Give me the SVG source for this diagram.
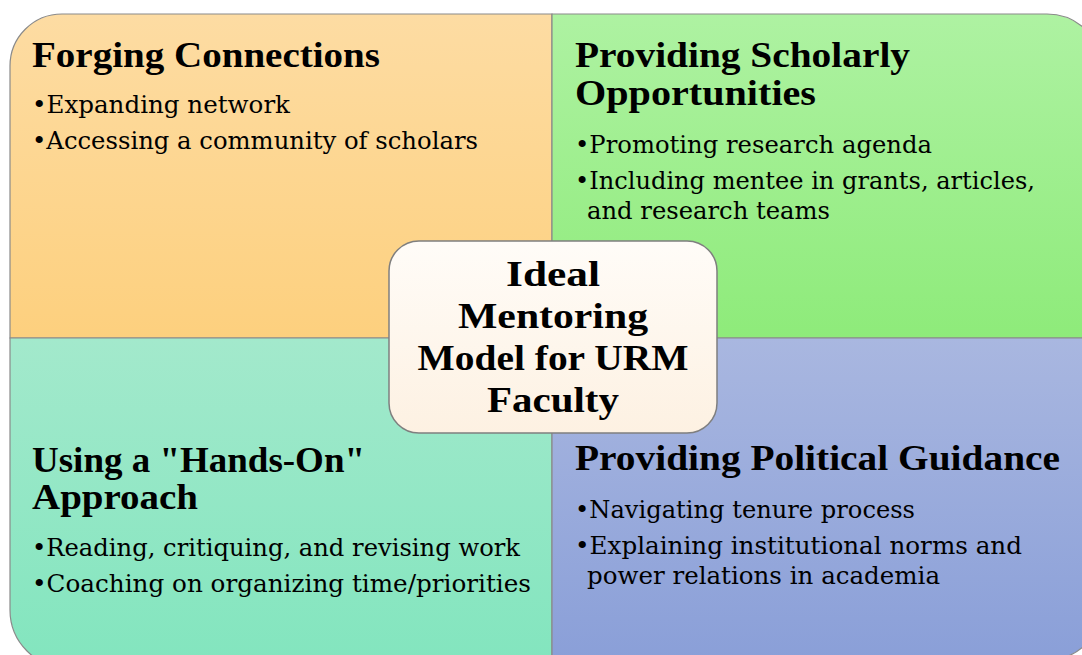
<svg xmlns="http://www.w3.org/2000/svg" width="1082" height="655" viewBox="0 0 1082 655">
<defs>
<linearGradient id="gOr" x1="0" y1="0" x2="0" y2="1"><stop offset="0" stop-color="#fddca3"/><stop offset="1" stop-color="#fdd07e"/></linearGradient>
<linearGradient id="gGr" x1="0" y1="0" x2="0" y2="1"><stop offset="0" stop-color="#aef2a2"/><stop offset="1" stop-color="#8eeb7a"/></linearGradient>
<linearGradient id="gTe" x1="0" y1="0" x2="0" y2="1"><stop offset="0" stop-color="#a3e9cc"/><stop offset="1" stop-color="#82e5be"/></linearGradient>
<linearGradient id="gBl" x1="0" y1="0" x2="0" y2="1"><stop offset="0" stop-color="#a9b7e0"/><stop offset="1" stop-color="#8a9fd8"/></linearGradient>
<linearGradient id="gCe" x1="0" y1="0" x2="0" y2="1"><stop offset="0" stop-color="#fffcf8"/><stop offset="1" stop-color="#fdf1e2"/></linearGradient>
</defs>
<style>
.q{stroke:#8a8a8a;stroke-width:1.2}
.t{font-family:"Liberation Serif","Times New Roman",serif;font-weight:bold;font-size:36px;fill:#000}
.b{font-family:"DejaVu Serif","Liberation Serif",serif;font-size:23.5px;fill:#000}
.c{font-family:"Liberation Serif","Times New Roman",serif;font-weight:bold;font-size:36px;fill:#000;text-anchor:middle}
</style>
<rect width="1082" height="655" fill="#ffffff"/>
<g id="forging">
<path class="q" fill="url(#gOr)" d="M10,338 V66 A52,52 0 0 1 62,14 H552 V338 Z"/>
<text class="t" x="32" y="67" textLength="348" lengthAdjust="spacingAndGlyphs">Forging Connections</text>
<text class="b" x="32" y="113" textLength="258" lengthAdjust="spacingAndGlyphs">•Expanding network</text>
<text class="b" x="32" y="149" textLength="446" lengthAdjust="spacingAndGlyphs">•Accessing a community of scholars</text>
</g>
<g id="scholarly">
<path class="q" fill="url(#gGr)" d="M552,14 H1047 A56,56 0 0 1 1103,70 V338 H552 Z"/>
<text class="t" x="575" y="67" textLength="335" lengthAdjust="spacingAndGlyphs">Providing Scholarly</text>
<text class="t" x="575" y="105" textLength="241" lengthAdjust="spacingAndGlyphs">Opportunities</text>
<text class="b" x="575" y="153" textLength="357" lengthAdjust="spacingAndGlyphs">•Promoting research agenda</text>
<text class="b" x="575" y="189" textLength="460" lengthAdjust="spacingAndGlyphs">•Including mentee in grants, articles,</text>
<text class="b" x="587" y="219" textLength="243" lengthAdjust="spacingAndGlyphs">and research teams</text>
</g>
<g id="handson">
<path class="q" fill="url(#gTe)" d="M10,338 H552 V668 H68 A58,58 0 0 1 10,610 Z"/>
<text class="t" x="32" y="472" textLength="333" lengthAdjust="spacingAndGlyphs">Using a "Hands-On"</text>
<text class="t" x="32" y="509" textLength="166" lengthAdjust="spacingAndGlyphs">Approach</text>
<text class="b" x="32" y="556" textLength="488" lengthAdjust="spacingAndGlyphs">•Reading, critiquing, and revising work</text>
<text class="b" x="32" y="592" textLength="499" lengthAdjust="spacingAndGlyphs">•Coaching on organizing time/priorities</text>
</g>
<g id="political">
<path class="q" fill="url(#gBl)" d="M552,338 H1103 V604 A56,56 0 0 1 1047,660 H552 Z"/>
<text class="t" x="575" y="470" textLength="485" lengthAdjust="spacingAndGlyphs">Providing Political Guidance</text>
<text class="b" x="575" y="518" textLength="340" lengthAdjust="spacingAndGlyphs">•Navigating tenure process</text>
<text class="b" x="575" y="554" textLength="447" lengthAdjust="spacingAndGlyphs">•Explaining institutional norms and</text>
<text class="b" x="587" y="584" textLength="353" lengthAdjust="spacingAndGlyphs">power relations in academia</text>
</g>
<g id="connectors"></g>
<g id="center">
<rect x="389" y="241" width="328" height="192" rx="30" ry="30" fill="url(#gCe)" stroke="#7f7f7f" stroke-width="1.5"/>
<text class="c" x="553" y="286" textLength="94" lengthAdjust="spacingAndGlyphs">Ideal</text>
<text class="c" x="553" y="328" textLength="190" lengthAdjust="spacingAndGlyphs">Mentoring</text>
<text class="c" x="553" y="370" textLength="271" lengthAdjust="spacingAndGlyphs">Model for URM</text>
<text class="c" x="553" y="412" textLength="132" lengthAdjust="spacingAndGlyphs">Faculty</text>
</g>
</svg>
